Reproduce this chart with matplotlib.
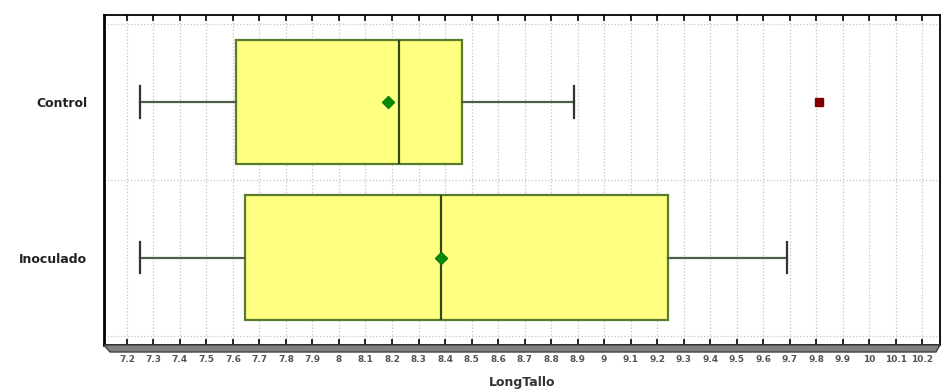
import matplotlib.pyplot as plt
from matplotlib.patches import Polygon

# Data
groups = ['Control', 'Inoculado']
whislo = [7.25, 7.25]
q1 = [7.61, 7.645]
median = [8.225, 8.385]
q3 = [8.465, 9.24]
whishi = [8.885, 9.69]
means = [8.185, 8.385]
outliers = [[9.81], []]

tick_labels = ['7.2', '7.3', '7.4', '7.5', '7.6', '7.7', '7.8', '7.9', '8',
               '8.1', '8.2', '8.3', '8.4', '8.5', '8.6', '8.7', '8.8', '8.9', '9',
               '9.1', '9.2', '9.3', '9.4', '9.5', '9.6', '9.7', '9.8', '9.9', '10',
               '10.1', '10.2']
tick_values = [float(t) for t in tick_labels]

stats = []
for i in range(len(groups)):
    stats.append(dict(label=groups[i], whislo=whislo[i], q1=q1[i], med=median[i],
                      q3=q3[i], whishi=whishi[i], mean=means[i], fliers=outliers[i]))

fig = plt.figure(figsize=(9.44, 3.91), dpi=100)
ax = fig.add_axes([0.110, 0.118, 0.886, 0.844])

ax.bxp(stats, positions=[0, 1], widths=0.8, capwidths=0.2, orientation='horizontal',
       showmeans=True, patch_artist=True,
       boxprops=dict(facecolor='#ffff80', edgecolor='#5a7a2e', linewidth=1.6),
       medianprops=dict(color='#2f4a1a', linewidth=1.6),
       whiskerprops=dict(color='#4f5f4a', linewidth=1.6),
       capprops=dict(color='#333333', linewidth=1.6),
       meanprops=dict(marker='D', markerfacecolor='#0a8a0a', markeredgecolor='#0a7a0a',
                      markersize=6),
       flierprops=dict(marker='s', markerfacecolor='#800000', markeredgecolor='#800000',
                       markersize=6))

ax.set_xlim(7.113, 10.268)
ax.set_ylim(1.559, -0.559)

ax.set_xticks(tick_values)
ax.set_xticklabels(tick_labels, fontsize=6.5, fontweight='bold', color='#555555')
ax.set_yticks([0, 1])
ax.set_yticklabels(groups, fontsize=9, fontweight='bold', color='#222222')
ax.set_yticks([-0.5, 0.5, 1.5], minor=True)

ax.tick_params(axis='x', direction='in', top=True, length=4, width=1.2, color='black', pad=7)
ax.tick_params(axis='y', which='both', length=0, pad=12)

ax.grid(axis='x', linestyle=':', color='#c4c4c4', linewidth=0.9)
ax.grid(axis='y', which='minor', linestyle=':', color='#c4c4c4', linewidth=0.9)
ax.set_axisbelow(True)

for side in ['top', 'right', 'bottom']:
    ax.spines[side].set_linewidth(1.3)
ax.spines['left'].set_linewidth(2)

ax.set_xlabel('LongTallo', fontsize=9, fontweight='bold', color='#333333', labelpad=9)

# 3D-ish floor under the plot frame
floor = Polygon([[104 / 944, 1 - 345 / 391], [940 / 944, 1 - 345 / 391],
                 [936 / 944, 1 - 352 / 391], [110 / 944, 1 - 352 / 391]],
                closed=True, transform=fig.transFigure, facecolor='#808080',
                edgecolor='#404040', linewidth=1)
fig.patches.append(floor)

fig.savefig('out.png', dpi=100)
